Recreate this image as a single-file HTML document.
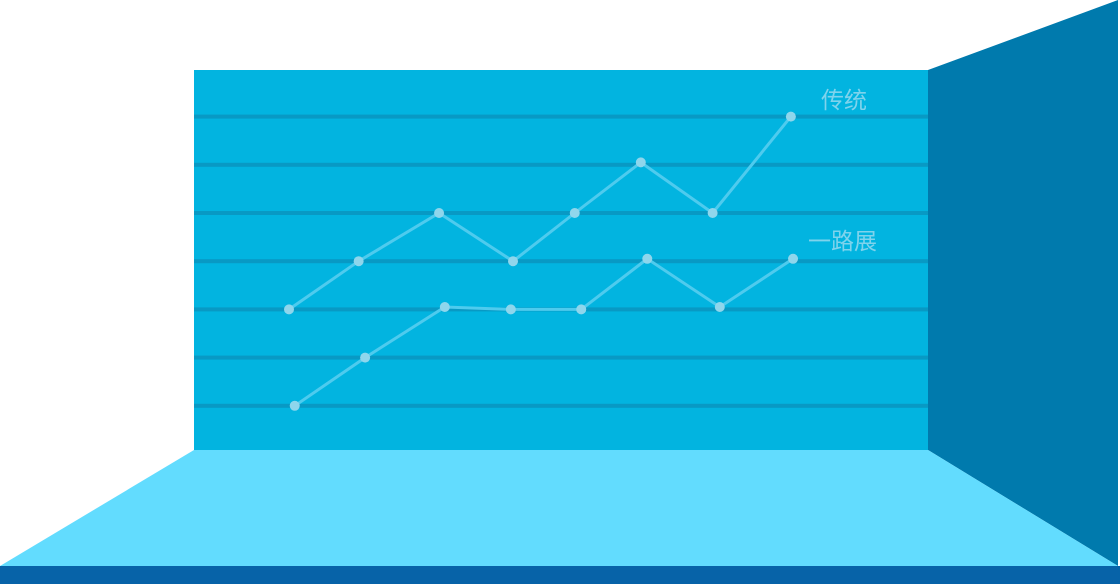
<!DOCTYPE html>
<html><head><meta charset="utf-8"><style>
html,body{margin:0;padding:0;background:#fff;width:1120px;height:584px;overflow:hidden}
svg{display:block}
</style></head><body>
<svg width="1120" height="584">
<polygon points="928,70 1118,0 1118,566 928,450" fill="#007aad"/>
<polygon points="194,450 928,450 1118,566 0,566" fill="#62dcfe"/>
<rect x="0" y="566" width="1120" height="18" fill="#0763a8"/>
<rect x="194" y="70" width="734" height="380" fill="#02b4e0"/>
<g id="grid"></g>
<g id="series"></g>
<text x="821" y="108" font-size="23" fill="#7fd3ec" font-family="'Liberation Sans','Noto Sans CJK SC',sans-serif">传统</text>
<text x="808" y="249" font-size="23" fill="#7fd3ec" font-family="'Liberation Sans','Noto Sans CJK SC',sans-serif">一路展</text>
</svg>
<script>
const gridValues = [1,2,3,4,5,6,7];
const xTraditional = [0,0.97,2.09,3.12,3.98,4.9,5.9,6.99];
const seriesTraditional = [3,4,5,4,5,6.05,5,7];
const xProgress = [0.08,1.06,2.17,3.09,4.07,4.99,6.0,7.02];
const seriesProgress = [1,2,3.05,3,3,4.05,3.05,4.05];
const NS='http://www.w3.org/2000/svg';
function yScale(v){return 454 - v*48.2;}
function xScale(i){return 289 + i*71.8;}
const grid=document.getElementById('grid');
gridValues.forEach(v=>{
  const r=document.createElementNS(NS,'rect');
  r.setAttribute('x',194);r.setAttribute('y',yScale(v)-2);
  r.setAttribute('width',734);r.setAttribute('height',4);r.setAttribute('fill','#0899c4');
  
  
  grid.appendChild(r);
});
const sg=document.getElementById('series');
function draw(xs,data,name){
  const pts=data.map((v,i)=>[xScale(xs[i]),yScale(v)]);
  const pl=document.createElementNS(NS,'polyline');
  pl.setAttribute('points',pts.map(p=>p.join(',')).join(' '));
  pl.setAttribute('fill','none');pl.setAttribute('stroke','#4ecbee');pl.setAttribute('stroke-width','3');
  
  
  sg.appendChild(pl);
  pts.forEach(p=>{
    const c=document.createElementNS(NS,'circle');
    c.setAttribute('cx',p[0]);c.setAttribute('cy',p[1]);c.setAttribute('r',5);c.setAttribute('fill','#8fd6ec');
    
    
    sg.appendChild(c);
  });
}
draw(xTraditional,seriesTraditional,'traditional');
draw(xProgress,seriesProgress,'progress');
</script>
</body></html>
